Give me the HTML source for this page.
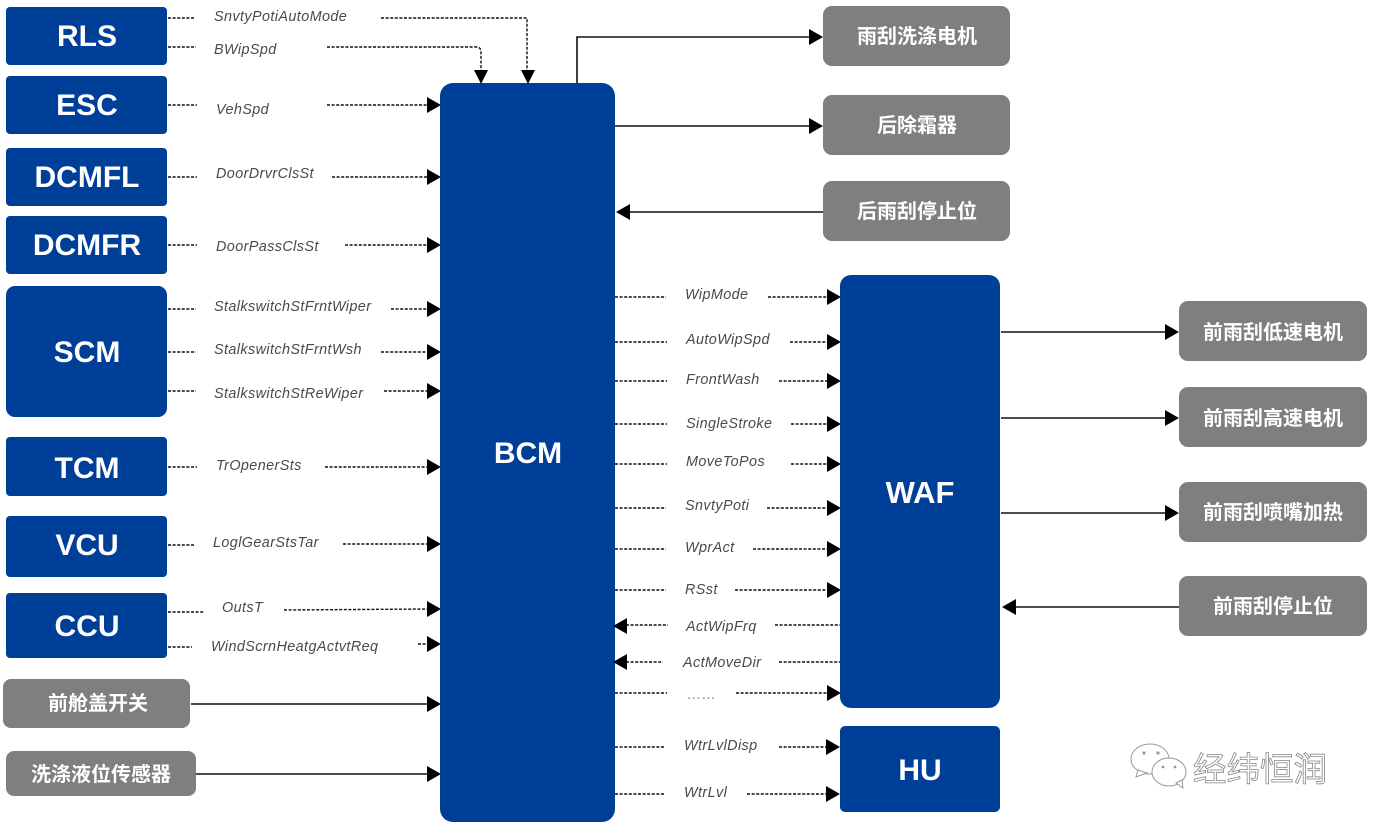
<!DOCTYPE html>
<html><head><meta charset="utf-8"><style>
html,body{margin:0;padding:0;background:#fff;width:1373px;height:828px;overflow:hidden}
svg{display:block}
.b{fill:#003f98}
.g{fill:#7f7e80}
.t{font-family:"Liberation Sans",sans-serif;font-weight:700;fill:#fff;text-anchor:middle}
.c{font-family:"Liberation Sans","Noto Sans CJK SC",sans-serif;font-weight:700;fill:#fff;text-anchor:middle;font-size:20px}
.l{font-family:"Liberation Sans",sans-serif;font-style:italic;font-size:14.4px;letter-spacing:.4px;fill:#4a4a4a}
.d{stroke:#111;stroke-width:1.4;stroke-dasharray:3 1.6;fill:none}
.s{stroke:#111;stroke-width:1.6;fill:none}
.a{fill:#000}
</style></head><body>
<svg width="1373" height="828" viewBox="0 0 1373 828" xmlns="http://www.w3.org/2000/svg">
<!-- left blue -->
<rect class="b" x="6" y="7" width="161" height="58" rx="4"/>
<rect class="b" x="6" y="76" width="161" height="58" rx="4"/>
<rect class="b" x="6" y="148" width="161" height="58" rx="4"/>
<rect class="b" x="6" y="216" width="161" height="58" rx="4"/>
<rect class="b" x="6" y="286" width="161" height="131" rx="9"/>
<rect class="b" x="6" y="437" width="161" height="59" rx="4"/>
<rect class="b" x="6" y="516" width="161" height="61" rx="4"/>
<rect class="b" x="6" y="593" width="161" height="65" rx="4"/>
<rect class="g" x="3" y="679" width="187" height="49" rx="8"/>
<rect class="g" x="6" y="751" width="190" height="45" rx="8"/>
<text class="t" font-size="30" x="87" y="46">RLS</text>
<text class="t" font-size="30" x="87" y="115">ESC</text>
<text class="t" font-size="30" x="87" y="187">DCMFL</text>
<text class="t" font-size="30" x="87" y="255">DCMFR</text>
<text class="t" font-size="30" x="87" y="362">SCM</text>
<text class="t" font-size="30" x="87" y="478">TCM</text>
<text class="t" font-size="30" x="87" y="555">VCU</text>
<text class="t" font-size="30" x="87" y="636">CCU</text>
<text class="c" x="98" y="710">前舱盖开关</text>
<text class="c" x="101" y="781">洗涤液位传感器</text>
<!-- center -->
<rect class="b" x="440" y="83" width="175" height="739" rx="13"/>
<rect class="b" x="840" y="275" width="160" height="433" rx="11"/>
<rect class="b" x="840" y="726" width="160" height="86" rx="5"/>
<text class="t" font-size="30" x="528" y="463">BCM</text>
<text class="t" font-size="31" x="920" y="503">WAF</text>
<text class="t" font-size="30" x="920" y="780">HU</text>
<!-- right gray -->
<rect class="g" x="823" y="6" width="187" height="60" rx="9"/>
<rect class="g" x="823" y="95" width="187" height="60" rx="9"/>
<rect class="g" x="823" y="181" width="187" height="60" rx="9"/>
<rect class="g" x="1179" y="301" width="188" height="60" rx="9"/>
<rect class="g" x="1179" y="387" width="188" height="60" rx="9"/>
<rect class="g" x="1179" y="482" width="188" height="60" rx="9"/>
<rect class="g" x="1179" y="576" width="188" height="60" rx="9"/>
<text class="c" x="917" y="43">雨刮洗涤电机</text>
<text class="c" x="917" y="132">后除霜器</text>
<text class="c" x="917" y="218">后雨刮停止位</text>
<text class="c" x="1273" y="339">前雨刮低速电机</text>
<text class="c" x="1273" y="425">前雨刮高速电机</text>
<text class="c" x="1273" y="519">前雨刮喷嘴加热</text>
<text class="c" x="1273" y="613">前雨刮停止位</text>
<!-- dashed left -->
<path class="d" d="M168 18H195M168 47H196M168 105H197M168 177H197M168 245H197M168 309H196M168 352H196M168 391H196M168 467H197M168 545H195M168 612H204M168 647H192"/>
<path class="d" d="M381 18H527V70M327 47H476Q481 47 481 52V70"/>
<path class="d" d="M327 105H428M332 177H428M345 245H428M391 309H428M381 352H428M384 391H428M325 467H428M343 544H428M284 610L428 609M418 644H428"/>
<!-- left arrows -->
<path class="a" d="M474 70h14l-7 14zM521 70h14l-7 14z"/>
<path class="a" d="M427 97l14 8-14 8zM427 169l14 8-14 8zM427 237l14 8-14 8zM427 301l14 8-14 8zM427 344l14 8-14 8zM427 383l14 8-14 8zM427 459l14 8-14 8zM427 536l14 8-14 8zM427 601l14 8-14 8zM427 636l14 8-14 8zM427 696l14 8-14 8zM427 766l14 8-14 8z"/>
<path class="s" d="M191 704H428M196 774H428"/>
<!-- BCM top/right solid -->
<path class="s" d="M577 83V37H810M615 126H810M823 212H628M1001 332H1166M1001 418H1166M1001 513H1166M1179 607H1014"/>
<path class="a" d="M809 29l14 8-14 8zM809 118l14 8-14 8zM630 204l-14 8 14 8zM1165 324l14 8-14 8zM1165 410l14 8-14 8zM1165 505l14 8-14 8zM1016 599l-14 8 14 8z"/>
<!-- middle dashes -->
<path class="d" d="M615 297H666M615 342H667M615 381H667M615 424H667M615 464H667M615 508H666M615 549H666M615 590H666M615 693H667M615 747H665M615 794H665"/>
<path class="d" d="M768 297H828M790 342H828M779 381H828M791 424H828M791 464H828M767 508H828M753 549H828M735 590H828M736 693H828M779 747H828M747 794H828"/>
<path class="d" d="M626 625H668M775 625H840M626 662H663M779 662H840"/>
<path class="a" d="M827 289l14 8-14 8zM827 334l14 8-14 8zM827 373l14 8-14 8zM827 416l14 8-14 8zM827 456l14 8-14 8zM827 500l14 8-14 8zM827 541l14 8-14 8zM827 582l14 8-14 8zM827 685l14 8-14 8zM826 739l14 8-14 8zM826 786l14 8-14 8z"/>
<path class="a" d="M627 618l-14 8 14 8zM627 654l-14 8 14 8z"/>
<!-- labels -->
<text class="l" x="214" y="21">SnvtyPotiAutoMode</text>
<text class="l" x="214" y="54">BWipSpd</text>
<text class="l" x="216" y="114">VehSpd</text>
<text class="l" x="216" y="178">DoorDrvrClsSt</text>
<text class="l" x="216" y="251">DoorPassClsSt</text>
<text class="l" x="214" y="311">StalkswitchStFrntWiper</text>
<text class="l" x="214" y="354">StalkswitchStFrntWsh</text>
<text class="l" x="214" y="398">StalkswitchStReWiper</text>
<text class="l" x="216" y="470">TrOpenerSts</text>
<text class="l" x="213" y="547">LoglGearStsTar</text>
<text class="l" x="222" y="612">OutsT</text>
<text class="l" x="211" y="651">WindScrnHeatgActvtReq</text>
<text class="l" x="685" y="299">WipMode</text>
<text class="l" x="686" y="344">AutoWipSpd</text>
<text class="l" x="686" y="384">FrontWash</text>
<text class="l" x="686" y="428">SingleStroke</text>
<text class="l" x="686" y="466">MoveToPos</text>
<text class="l" x="685" y="510">SnvtyPoti</text>
<text class="l" x="685" y="552">WprAct</text>
<text class="l" x="685" y="594">RSst</text>
<text class="l" x="686" y="631">ActWipFrq</text>
<text class="l" x="683" y="667">ActMoveDir</text>
<text class="l" x="687" y="699" style="fill:#888">……</text>
<text class="l" x="684" y="750">WtrLvlDisp</text>
<text class="l" x="684" y="797">WtrLvl</text>
<!-- watermark -->
<g fill="#fff" stroke="#999" stroke-width="1">
<ellipse cx="1150" cy="759" rx="19" ry="15"/>
<path d="M1138 770l-2 7 11-4z"/>
<ellipse cx="1169" cy="772" rx="17" ry="14"/>
<path d="M1176 783l7 5-1-8z"/>
</g>
<g fill="#999"><circle cx="1144" cy="753" r="1.6"/><circle cx="1158" cy="753" r="1.6"/><circle cx="1163" cy="767" r="1.4"/><circle cx="1175" cy="767" r="1.4"/></g>
<text x="1193" y="781" font-family="'Noto Sans CJK SC','WenQuanYi Zen Hei',sans-serif" font-size="33.5" fill="#fff" stroke="#888" stroke-width="0.8">经纬恒润</text>
</svg>
</body></html>
